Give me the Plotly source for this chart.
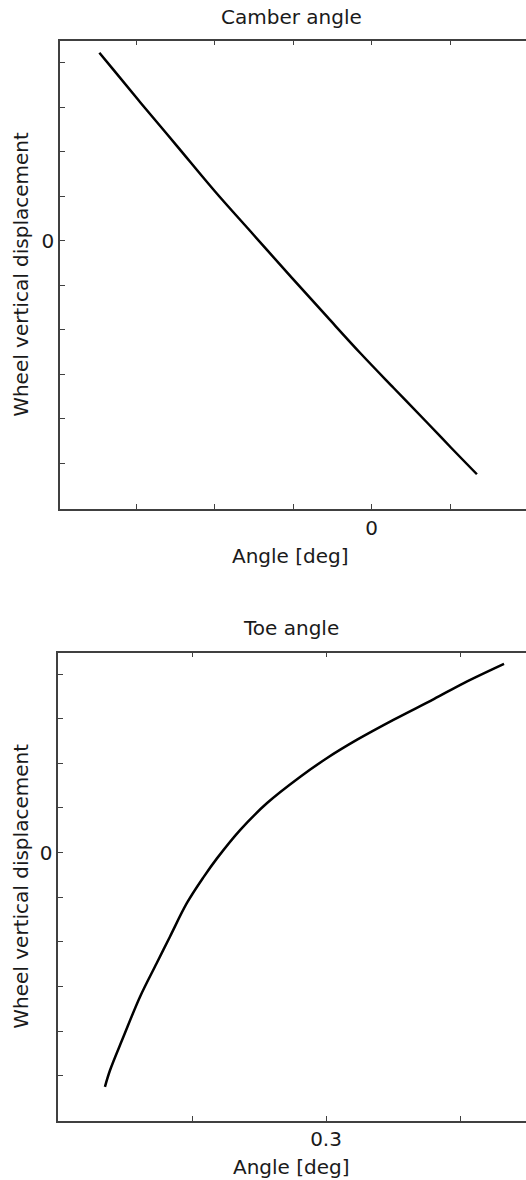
import plotly.graph_objects as go

# ---------------- data ----------------
camber_angle = [-1.736, -1.647, -1.476, -1.242, -0.997, -0.752, -0.507, -0.283,
                -0.070, 0.142, 0.356, 0.505, 0.671]
camber_disp = [42.2, 38.4, 31.1, 21.3, 11.0, 1.3, -8.4, -17.1, -25.3, -33.1,
               -40.9, -46.4, -52.4]

toe_angle = [0.2175, 0.2194, 0.2244, 0.2306, 0.2368, 0.2418, 0.2481, 0.2543,
             0.2593, 0.2680, 0.2780, 0.2904, 0.3004, 0.3116, 0.3253, 0.3402,
             0.3514, 0.3664]
toe_disp = [-52.5, -48.8, -41.3, -32.3, -24.8, -18.8, -11.3, -5.5, -1.3, 5.1,
            11.1, 17.0, 21.2, 25.3, 29.8, 34.4, 38.0, 42.3]

disp_ticks = [-50, -40, -30, -20, -10, 0, 10, 20, 30, 40]
disp_ticktext = ["", "", "", "", "", "0", "", "", "", ""]
camber_ticks = [-1.5, -1.0, -0.5, 0.0, 0.5]
camber_ticktext = ["", "", "", "0", ""]
toe_ticks = [0.25, 0.30, 0.35]
toe_ticktext = ["", "0.3", ""]

titles = ["Camber angle", "Toe angle"]
x_title = "Angle [deg]"
y_title = "Wheel vertical displacement"

# ---------------- layout helpers ----------------
W, H = 526, 1180
FONT = "DejaVu Sans"
TXT = "#1a1a1a"
AX = "#404040"


def px(x):
    return x / W


def py(y):
    return 1 - y / H


line_style = dict(color="black", width=2.5, shape="spline", smoothing=1.0)

fig = go.Figure()
fig.add_trace(go.Scatter(x=camber_angle, y=camber_disp, mode="lines", line=line_style,
                         xaxis="x", yaxis="y", showlegend=False, hoverinfo="skip"))
fig.add_trace(go.Scatter(x=toe_angle, y=toe_disp, mode="lines", line=line_style,
                         xaxis="x2", yaxis="y2", showlegend=False, hoverinfo="skip"))

tickfont = dict(family=FONT, size=20, color=TXT)
x_common = dict(showgrid=False, zeroline=False, showline=True, linecolor=AX,
                linewidth=1.5, mirror="ticks", ticks="inside", ticklen=5,
                tickwidth=1.2, tickcolor=AX, tickfont=tickfont)
y_common = dict(showgrid=False, zeroline=False, showline=True, linecolor=AX,
                linewidth=1.5, mirror=False, ticks="inside", ticklen=5,
                tickwidth=1.2, tickcolor=AX, tickfont=tickfont)
y_right = dict(showgrid=False, zeroline=False, showline=False, side="right",
               ticks="inside", ticklen=3, tickwidth=1.2, tickcolor=AX,
               showticklabels=False)

top_xdom = [px(60), 1.0]
bot_xdom = [px(58.3), 1.0]
top_ydom = [py(509), py(40.7)]
bot_ydom = [py(1120.7), py(652.7)]
top_yrange = [-60.2, 44.9]
bot_yrange = [-60.1, 44.8]

fig.update_layout(
    width=W, height=H,
    margin=dict(l=0, r=0, t=0, b=0),
    paper_bgcolor="white", plot_bgcolor="white",
    xaxis=dict(domain=top_xdom, range=[-1.987, 0.984], anchor="y",
               tickvals=camber_ticks, ticktext=camber_ticktext, **x_common),
    yaxis=dict(domain=top_ydom, range=top_yrange, anchor="x",
               tickvals=disp_ticks, ticktext=disp_ticktext, **y_common),
    yaxis3=dict(overlaying="y", anchor="x", range=top_yrange,
                tickvals=disp_ticks, **y_right),
    xaxis2=dict(domain=bot_xdom, range=[0.2001, 0.3746], anchor="y2",
                tickvals=toe_ticks, ticktext=toe_ticktext, **x_common),
    yaxis2=dict(domain=bot_ydom, range=bot_yrange, anchor="x2",
                tickvals=disp_ticks, ticktext=disp_ticktext, **y_common),
    yaxis4=dict(overlaying="y2", anchor="x2", range=bot_yrange,
                tickvals=disp_ticks, **y_right),
)

ann_font = dict(family=FONT, size=20, color=TXT)
annotations = [
    dict(text=titles[0], x=px(291), y=py(17)),
    dict(text=x_title, x=px(290), y=py(556)),
    dict(text=y_title, x=px(21), y=py(274.85), textangle=-90),
    dict(text=titles[1], x=px(291), y=py(628)),
    dict(text=x_title, x=px(291), y=py(1167)),
    dict(text=y_title, x=px(21), y=py(886.7), textangle=-90),
]
for a in annotations:
    a.update(xref="paper", yref="paper", showarrow=False, xanchor="center",
             yanchor="middle", font=ann_font)
fig.update_layout(annotations=annotations)

fig.write_html(
    "out.html",
    config={"displayModeBar": False},
    post_script="document.body.style.margin='0';document.body.style.overflow='hidden';",
)
